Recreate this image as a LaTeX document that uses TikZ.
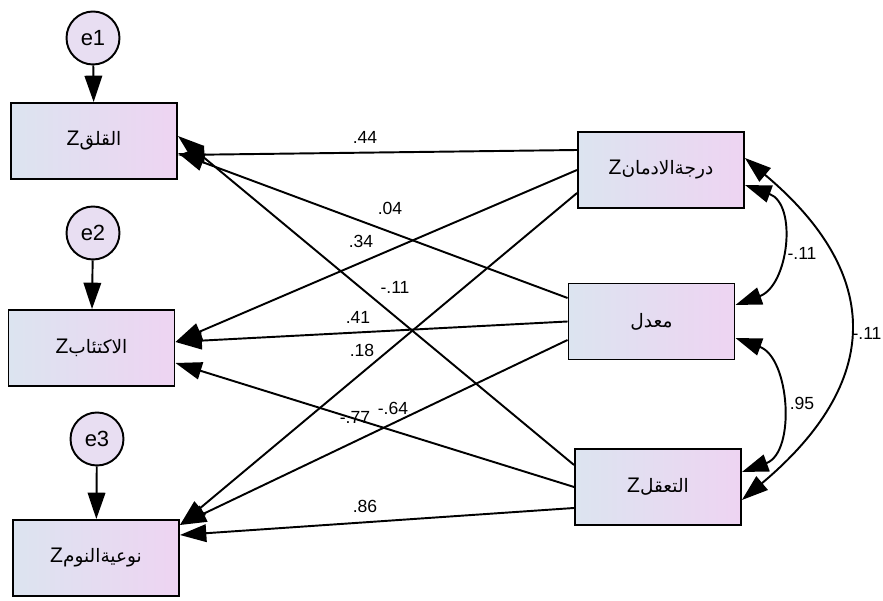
\documentclass[tikz,border=0pt]{standalone}
\usepackage{fontspec}
\setmainfont{Liberation Sans}
\newfontfamily\arabicfont[Script=Arabic,Scale=0.88]{DejaVu Sans}
\TeXXeTstate=1
\usetikzlibrary{arrows.meta}
\definecolor{boxleft}{RGB}{220,228,240}
\definecolor{boxright}{RGB}{238,212,242}
\definecolor{errfill}{RGB}{232,222,242}
\newcommand{\arab}[1]{{\arabicfont\beginR #1\endR}}
\tikzset{
	var/.style={ draw, line width=1.1pt, minimum width=3.32cm, minimum height=1.52cm, inner sep=0pt, left color=boxleft, right color=boxright, font=\fontsize{12}{14}\selectfont },
	err/.style={ draw, circle, line width=1.1pt, minimum size=1.06cm, inner sep=0pt, fill=errfill, font=\fontsize{12.5}{14}\selectfont },
	reg/.style={ line width=1.1pt, -{Triangle[length=15pt,width=10pt]} },
	cov/.style={ line width=1.1pt, {Triangle[length=15pt,width=10pt]}-{Triangle[length=15pt,width=10pt]} },
	coef/.style={ font=\fontsize{10}{12}\selectfont, inner sep=1pt }
}
\begin{document}
\begin{tikzpicture}[ x=0.02cm, y=0.02cm ]
	  \useasboundingbox (0,0) rectangle (883,601);

	  \node [ var ] (anx) at (94,460) {Z\arab{القلق}};
	  \node [ var ] (dep) at (91.5,253) {Z\arab{الاكتئاب}};
	  \node [ var ] (slp) at (96,43) {Z\arab{نوعيةالنوم}};
	  \node [ var ] (add) at (661,431) {Z\arab{درجةالادمان}};
	  \node [ var ] (gpa) at (651.5,279.5) {\arab{معدل}};
	  \node [ var ] (mnd) at (658,114) {Z\arab{التعقل}};

	  \node [ err ] (e1) at (93,563) {e1};
	  \node [ err ] (e2) at (93,368) {e2};
	  \node [ err ] (e3) at (97,162) {e3};

	  \draw [ reg ] (e1) -- (anx);
	  \draw [ reg ] (e2) -- (dep);
	  \draw [ reg ] (e3) -- (slp);

	  \draw [ reg ] ([yshift=0.4cm]add.west) -- ([yshift=-0.28cm]anx.east);
	  \draw [ reg ] (add.west) -- ([yshift=0.12cm]dep.east);
	  \draw [ reg ] ([yshift=-0.46cm]add.west) -- ([yshift=0.66cm]slp.east);

	  \draw [ reg ] ([yshift=0.47cm]gpa.west) -- ([yshift=-0.24cm]anx.east);
	  \draw [ reg ] (gpa.west) -- ([yshift=0.12cm]dep.east);
	  \draw [ reg ] ([yshift=-0.37cm]gpa.west) -- ([yshift=0.66cm]slp.east);

	  \draw [ reg ] ([yshift=0.44cm]mnd.west) -- ([yshift=0.1cm]anx.east);
	  \draw [ reg ] (mnd.west) -- ([yshift=-0.3cm]dep.east);
	  \draw [ reg ] ([yshift=-0.42cm]mnd.west) -- ([yshift=0.46cm]slp.east);

	  \draw [ cov ] ([yshift=-0.3cm]add.east) to [ out=-20, in=20, looseness=1.2 ] ([yshift=0.33cm]gpa.east);
	  \draw [ cov ] ([yshift=-0.33cm]gpa.east) to [ out=-20, in=20, looseness=1.1 ] ([yshift=0.3cm]mnd.east);
	  \draw [ cov ] ([yshift=0.24cm]add.east) to [ out=-40, in=40, looseness=1.36 ] ([yshift=-0.26cm]mnd.east);

	  \node [ coef ] (c1) at (365,464) {.44};
	  \node [ coef ] (c2) at (390,393) {.04};
	  \node [ coef ] (c3) at (361,360) {.34};
	  \node [ coef ] (c4) at (395,314) {-.11};
	  \node [ coef ] (c5) at (358,284) {.41};
	  \node [ coef ] (c6) at (362,251) {.18};
	  \node [ coef ] (c7) at (393,193) {-.64};
	  \node [ coef ] (c8) at (355,184) {-.77};
	  \node [ coef ] (c9) at (365,95) {.86};

	  \node [ coef ] (r1) at (802,348) {-.11};
	  \node [ coef ] (r2) at (802,198) {.95};
	  \node [ coef ] (r3) at (867,268) {-.11};
\end{tikzpicture}
\end{document}
